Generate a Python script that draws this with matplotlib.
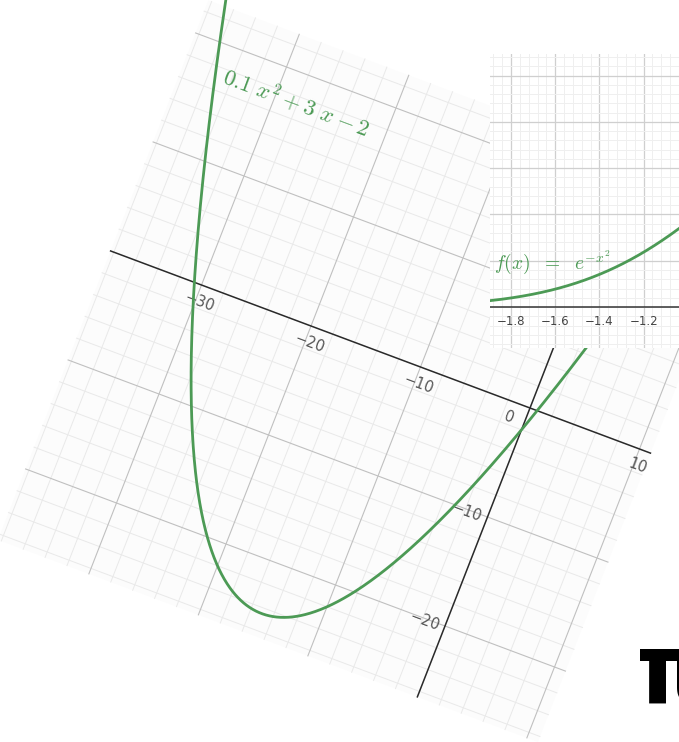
import numpy as np
import matplotlib
matplotlib.use("Agg")
import matplotlib.pyplot as plt
from matplotlib.transforms import Affine2D
from matplotlib.patches import Rectangle

plt.rcParams['mathtext.fontset'] = 'cm'

# quadratic 0.1 x^2 + 3 x - 2 on a tilted grid
quad_coef = [0.1, 3, -2]
quad_xlim = (-38.3, 11.0)
quad_ylim = (-26.5, 23.0)
quad_major = [-30, -20, -10, 10, 20]
quad_xlabels = [-30, -20, -10, 10]
quad_ylabels = [-10, -20]

# inset: f(x) = exp(-x^2)
gauss_xlim = (-1.895, -1.0786)
gauss_ylim = (-0.177, 1.093)
gauss_ticks = [-1.8, -1.6, -1.4, -1.2]

green = '#4c9a55'
W, H = 679, 742

fig = plt.figure(figsize=(W / 100, H / 100), dpi=100)
ax = fig.add_axes([0, 0, 1, 1])
ax.set_xlim(0, W)
ax.set_ylim(H, 0)
ax.axis('off')

# graph units -> canvas pixels (scaled and rotated ~20 deg clockwise)
tilt = Affine2D(np.array([[10.95, 4.25, 530.0],
                          [4.10, -10.9, 408.0],
                          [0.0, 0.0, 1.0]])) + ax.transData
angle = -20.5

x0, x1 = quad_xlim
y0, y1 = quad_ylim
paper = Rectangle((x0, y0), x1 - x0, y1 - y0, transform=tilt,
                  facecolor='#fcfcfc', edgecolor='none', zorder=0)
ax.add_patch(paper)

for gx in np.arange(-38, x1, 2):
    major = gx in quad_major
    ax.plot([gx, gx], [y0, y1], transform=tilt, lw=0.8 if major else 0.7,
            color='#c0c0c0' if major else '#e9e9e9', zorder=2 if major else 1)
for gy in np.arange(-26, y1, 2):
    major = gy in quad_major
    ax.plot([x0, x1], [gy, gy], transform=tilt, lw=0.8 if major else 0.7,
            color='#c0c0c0' if major else '#e9e9e9', zorder=2 if major else 1)

ax.plot([x0, x1], [0, 0], transform=tilt, color='#2a2a2a', lw=1.1, zorder=3)
ax.plot([0, 0], [y0, y1], transform=tilt, color='#2a2a2a', lw=1.1, zorder=3)

tick_kw = dict(transform=tilt, rotation=angle, rotation_mode='anchor',
               ha='center', va='center', fontsize=10.5, color='#555555', zorder=4)
for t in quad_xlabels:
    ax.text(t + 0.4, -1.45, '\u2212%d' % -t if t < 0 else str(t), **tick_kw)
ax.text(-1.35, -1.4, '0', **tick_kw)
for t in quad_ylabels:
    ax.text(-1.8, t - 0.2, '\u2212%d' % -t, **tick_kw)

xs = np.linspace(x0, x1, 800)
ys = np.polyval(quad_coef, xs)
curve, = ax.plot(xs, ys, transform=tilt, color=green, lw=2.0, zorder=5)
curve.set_clip_path(paper)

ax.text(-28.1, 17.4, r'$0.1\ x^2+3\ x-2$', transform=tilt, rotation=angle,
        rotation_mode='anchor', ha='center', va='center', fontsize=16.5,
        color=green, zorder=6)

# big pi at the lower right
ax.text(637, 703, '\u03c0', fontsize=74, fontweight='black',
        family=['Roboto', 'DejaVu Sans'], color='black',
        ha='left', va='baseline', zorder=6)

# inset with the gaussian
ins = fig.add_axes([490 / W, 1 - 348 / H, (W - 490) / W, (348 - 54) / H])
ins.set_xlim(*gauss_xlim)
ins.set_ylim(*gauss_ylim)
ins.set_facecolor('white')
for s in ins.spines.values():
    s.set_visible(False)
ins.set_xticks(np.arange(-1.8, -1.0, 0.2))
ins.set_yticks(np.arange(0.2, 1.1, 0.2))
ins.set_xticks(np.arange(-1.88, -1.0, 0.04), minor=True)
ins.set_yticks(np.arange(-0.16, 1.1, 0.04), minor=True)
ins.grid(which='major', color='#cfcfcf', lw=0.9)
ins.grid(which='minor', color='#efefef', lw=0.7)
ins.tick_params(which='both', length=0, labelbottom=False, labelleft=False)
ins.set_axisbelow(True)
ins.axhline(0, color='#333333', lw=1.1)

gx = np.linspace(-1.95, -1.0, 300)
ins.plot(gx, np.exp(-gx ** 2), color=green, lw=2.0)
for t in gauss_ticks:
    ins.text(t, -0.062, '\u2212%.1f' % -t, ha='center', va='center',
             fontsize=8.5, color='#444444')
ins.text(-1.878, 0.195, r'$f(x)\ \ =\ \ e^{-x^2}$', ha='left', va='center',
         fontsize=14, color=green)

fig.savefig('out.png', dpi=100)
